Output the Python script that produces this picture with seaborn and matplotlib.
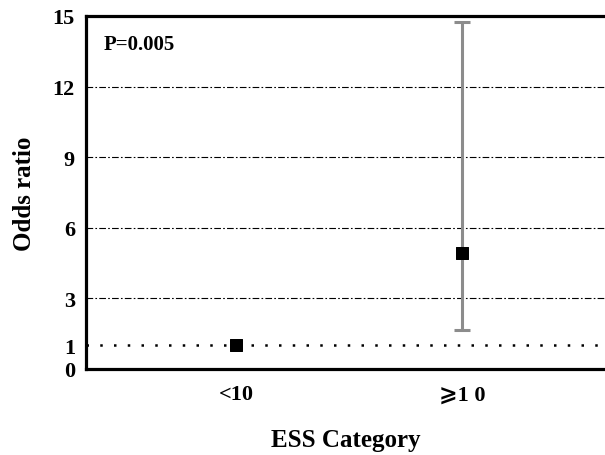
import numpy as np
import seaborn as sns
import matplotlib
matplotlib.use('Agg')
import matplotlib.pyplot as plt

# values
categories = ['<10', '\u2a7e1 0']
odds = [1.0, 4.93]
ci_low = [1.0, 1.66]
ci_high = [1.0, 14.76]
yticks = [0, 1, 3, 6, 9, 12, 15]
grid_lines = [3, 6, 9, 12]
p_text = 'P=0.005'

sns.set_theme(style='white')
plt.rcParams['font.family'] = ['Liberation Serif', 'DejaVu Serif', 'DejaVu Sans']
plt.rcParams['font.weight'] = 'bold'
plt.rcParams['text.color'] = 'black'
plt.rcParams['axes.labelcolor'] = 'black'

fig = plt.figure(figsize=(6.05, 4.56), dpi=100)
ax = fig.add_axes([86 / 605, 1 - 370 / 456, 1 - 86 / 605, (370 - 17) / 456])

pos = np.arange(len(categories))
for g in grid_lines:
    ax.axhline(g, color='black', lw=0.8, ls=(0, (6, 2, 1.5, 2)), zorder=1)
ax.axhline(1, color='black', lw=1.8, ls=(0, (1, 4.5)), zorder=1)

# error bar only for the second category
err = np.array([[o - l for o, l in zip(odds, ci_low)],
                [h - o for o, h in zip(odds, ci_high)]])
ax.errorbar(pos[1:], odds[1:], yerr=err[:, 1:], fmt='none', ecolor='#8c8c8c',
            elinewidth=2.2, capsize=6, capthick=2.2, zorder=2)
sns.scatterplot(x=pos, y=odds, marker='s', s=80, color='black',
                edgecolor='black', ax=ax, zorder=3)

ax.set_xlim(-0.664, 1.632)
ax.set_ylim(0, 15)
ax.set_xticks(pos)
ax.set_xticklabels(categories)
ax.set_yticks(yticks)

for side in ['left', 'bottom', 'top']:
    ax.spines[side].set_linewidth(2.3)
    ax.spines[side].set_color('black')
ax.spines['right'].set_visible(False)
ax.tick_params(axis='both', direction='out', length=7, width=2.3,
               labelsize=16, color='black', labelcolor='black', pad=4)
ax.tick_params(axis='y', pad=1)
for lab in ax.get_xticklabels() + ax.get_yticklabels():
    lab.set_fontweight('bold')

ax.set_ylabel('Odds ratio', fontsize=18, fontweight='bold', labelpad=12)
ax.set_xlabel('ESS Category', fontsize=18, fontweight='bold', labelpad=17)
ax.text(0.033, 0.92, p_text, transform=ax.transAxes, fontsize=15,
        fontweight='bold', va='center', ha='left')

fig.savefig('out.png', dpi=100)
